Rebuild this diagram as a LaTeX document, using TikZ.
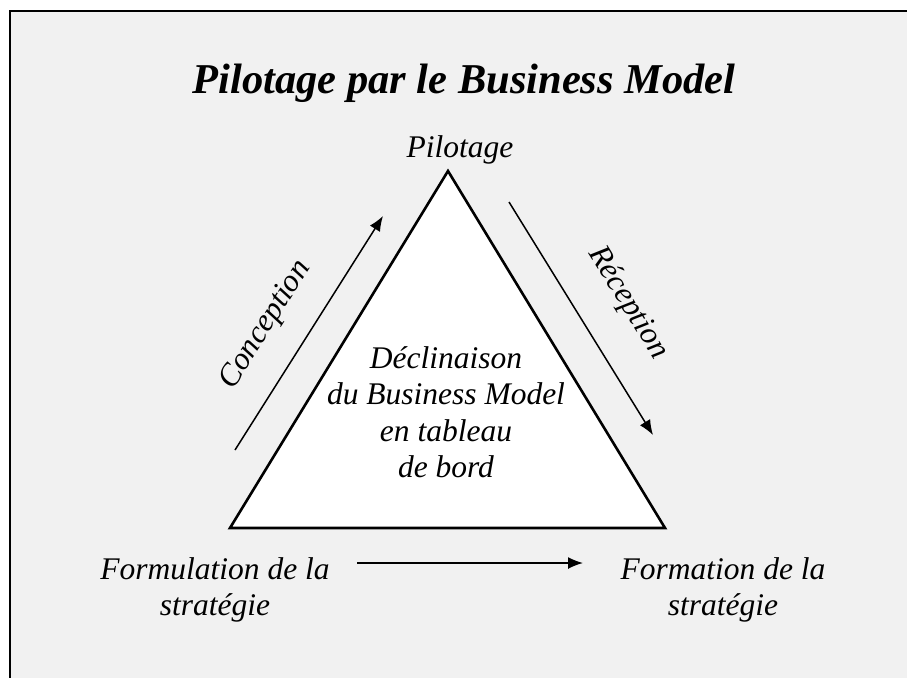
\documentclass[tikz,border=0pt]{standalone}
\usepackage{fontspec}
\setmainfont{Liberation Serif}
\usetikzlibrary{arrows.meta}
\tikzset{
  lbl/.style={font=\fontsize{31.5}{36.5}\selectfont\itshape, inner sep=0pt, align=center},
  flow/.style={line width=1.5pt, -{Latex[length=15pt,width=12pt]}},
  tri/.style={fill=white, draw=black, line width=2.6pt, line join=miter}
}
\begin{document}
\begin{tikzpicture}[x=1pt,y=-1pt]
\useasboundingbox (0,0) rectangle (907,677);
\clip (0,0) rectangle (907,677);
\fill[white] (0,0) rectangle (907,677);
\draw[fill={rgb,255:red,241;green,241;blue,241}, line width=2.6pt] (10,11) rectangle (940,700);
% title
\node[font=\fontsize{42.5}{48}\selectfont\bfseries\itshape, inner sep=0pt, anchor=base] (title) at (464,93) {Pilotage par le Business Model};
% triangle
\coordinate (A) at (448,171);
\coordinate (B) at (230,528);
\coordinate (C) at (665,528);
\draw[tri] (A) -- (B) -- (C) -- cycle;
% labels
\node[lbl, anchor=base] (pil) at (460,157) {Pilotage};
\node[lbl] (center) at (446,412) {Déclinaison\\du Business Model\\en tableau\\de bord};
\node[lbl] (form) at (215,590) {Formulation de la\\stratégie};
\node[lbl] (forma) at (723,590) {Formation de la\\stratégie};
\node[lbl, rotate=57.7] (conc) at (266,325) {Conception};
\node[lbl, rotate=-58.2] (rec) at (628,303) {Réception};
% arrows
\coordinate (c1) at (235,450);
\coordinate (c2) at (383,216);
\coordinate (r1) at (509,202);
\coordinate (r2) at (653,435);
\coordinate (b1) at (357,563);
\coordinate (b2) at (583,563);
\draw[flow] (c1) -- (c2);
\draw[flow] (r1) -- (r2);
\draw[flow] (b1) -- (b2);
\end{tikzpicture}
\end{document}
